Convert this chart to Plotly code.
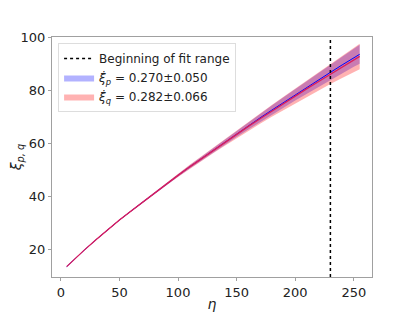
import plotly.graph_objects as go

eta = [5, 10, 20, 30, 40, 50, 60, 70, 80, 90, 100, 110, 120, 130, 140, 150,
       160, 170, 180, 190, 200, 210, 220, 230, 240, 250, 255]
xi_p = [13.7, 15.8, 19.9, 23.8, 27.6, 31.2, 34.6, 38.0, 41.4, 44.8, 48.0, 51.2,
        54.3, 57.4, 60.5, 63.6, 66.6, 69.6, 72.5, 75.4, 78.3, 81.1, 83.9, 86.7,
        89.5, 92.2, 93.5]
xi_q = [13.7, 15.8, 19.9, 23.8, 27.6, 31.2, 34.6, 38.0, 41.4, 44.8, 48.0, 51.2,
        54.3, 57.4, 60.4, 63.4, 66.4, 69.3, 72.2, 75.0, 77.8, 80.6, 83.3, 86.0,
        88.7, 91.4, 92.7]
err_p = [0.0, 0.0, 0.05, 0.08, 0.1, 0.15, 0.2, 0.25, 0.3, 0.4, 0.5, 0.6, 0.7,
         0.85, 1.0, 1.2, 1.4, 1.6, 1.8, 2.0, 2.2, 2.4, 2.6, 2.8, 3.1, 3.4, 3.6]
err_q = [0.0, 0.0, 0.05, 0.1, 0.15, 0.2, 0.25, 0.3, 0.4, 0.5, 0.6, 0.75, 0.9,
         1.05, 1.25, 1.45, 1.7, 1.95, 2.2, 2.5, 2.8, 3.1, 3.4, 3.7, 4.1, 4.5, 4.8]
fit_start = 230
label_p = "<i>ξ̇<sub>p</sub></i> = 0.270±0.050"
label_q = "<i>ξ̇<sub>q</sub></i> = 0.282±0.066"

fig = go.Figure()

def band(y, e, color, name, rank):
    up = [a + b for a, b in zip(y, e)]
    lo = [a - b for a, b in zip(y, e)]
    fig.add_trace(go.Scatter(x=eta, y=up, mode="lines", line=dict(width=0, color=color),
                             showlegend=False, hoverinfo="skip", legendgroup=name))
    fig.add_trace(go.Scatter(x=eta, y=lo, mode="lines", line=dict(width=0, color=color),
                             fill="tonexty", fillcolor=color, name=name,
                             legendgroup=name, legendrank=rank))

band(xi_p, err_p, "rgba(0,0,255,0.3)", label_p, 2)
band(xi_q, err_q, "rgba(255,0,0,0.3)", label_q, 3)

fig.add_trace(go.Scatter(x=eta, y=xi_p, mode="lines", line=dict(color="blue", width=1),
                         showlegend=False))
fig.add_trace(go.Scatter(x=eta, y=xi_q, mode="lines", line=dict(color="rgb(220,30,90)", width=1.3),
                         showlegend=False))

fig.add_shape(type="line", x0=fit_start, x1=fit_start, xref="x", yref="y domain",
              y0=0, y1=1, line=dict(color="black", width=1.5, dash="dot"),
              showlegend=True, name="Beginning of fit range", legendrank=1,
              legendgroup="fit")

axis_common = dict(showline=True, linecolor="#a0a0a0", linewidth=1, mirror=True,
                   showgrid=False, zeroline=False, ticks="outside", ticklen=3,
                   tickcolor="#a0a0a0", tickfont=dict(size=13, color="#222"),
                   automargin=False)

fig.update_layout(
    width=407, height=304,
    margin=dict(l=44, r=43, t=29, b=35),
    paper_bgcolor="white", plot_bgcolor="white",
    font=dict(family="DejaVu Sans", color="#222"),
    xaxis=dict(range=[-7.5, 265.5], tickvals=[0, 50, 100, 150, 200, 250],
               title=dict(text="<i>η</i>", font=dict(size=14), standoff=0), **axis_common),
    yaxis=dict(range=[9.8, 100], tickvals=[20, 40, 60, 80, 100],
               title=dict(text="<i>ξ<sub>p, q</sub></i>", font=dict(size=14), standoff=6),
               **axis_common),
    legend=dict(x=0.019, y=0.975, xanchor="left", yanchor="top",
                bordercolor="#dddddd", borderwidth=1, bgcolor="rgba(255,255,255,0.8)",
                font=dict(size=12), tracegroupgap=9, traceorder="normal"),
    showlegend=True,
)

fig.write_html("out.html")
